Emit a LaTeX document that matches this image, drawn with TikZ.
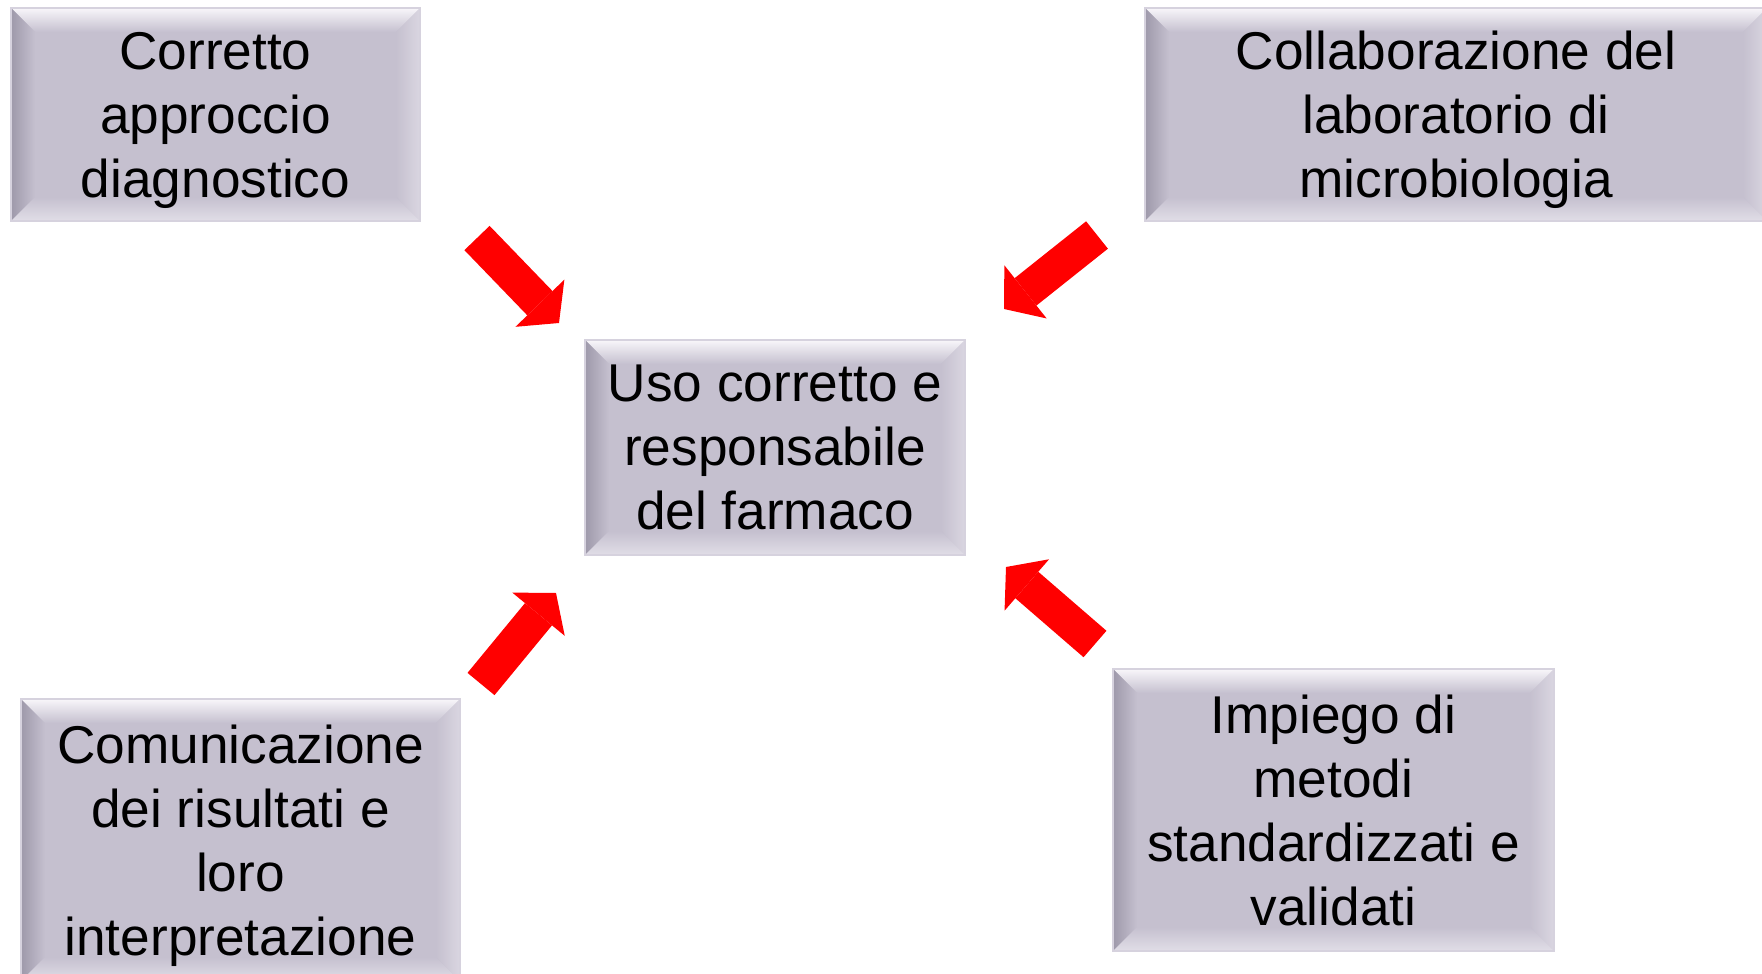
\documentclass[tikz,border=0pt]{standalone}
\usepackage{fontspec}
\setmainfont{Liberation Sans}
\usetikzlibrary{arrows.meta}
\definecolor{boxfill}{RGB}{197,192,207}
\definecolor{boxedge}{RGB}{214,210,222}
\definecolor{bevtop}{RGB}{248,246,250}
\definecolor{bevleft}{RGB}{158,153,170}
\definecolor{bevright}{RGB}{218,214,225}
\definecolor{bevbot}{RGB}{225,222,231}
\tikzset{
bevbox/.style 2 args={fill=boxfill, draw=boxedge, line width=0.8pt, minimum width=#1, minimum height=#2, inner sep=0pt, align=center, text depth=0pt, font=\fontsize{26.6}{32}\selectfont,
path picture={
\coordinate (nw) at (path picture bounding box.north west);
\coordinate (ne) at (path picture bounding box.north east);
\coordinate (sw) at (path picture bounding box.south west);
\coordinate (se) at (path picture bounding box.south east);
\shade[top color=bevtop, bottom color=boxfill] (nw) -- (ne) -- ([shift={(-12pt,-12pt)}]ne) -- ([shift={(12pt,-12pt)}]nw) -- cycle;
\shade[left color=bevleft, right color=boxfill] (nw) -- ([shift={(12pt,-12pt)}]nw) -- ([shift={(12pt,12pt)}]sw) -- (sw) -- cycle;
\shade[right color=bevright, left color=boxfill] (ne) -- (se) -- ([shift={(-12pt,12pt)}]se) -- ([shift={(-12pt,-12pt)}]ne) -- cycle;
\shade[bottom color=bevbot, top color=boxfill] (sw) -- (se) -- ([shift={(-12pt,12pt)}]se) -- ([shift={(12pt,12pt)}]sw) -- cycle;
}},
bigarrow/.style={draw=red, line width=17.5pt, line cap=butt, -{Triangle[width=34pt,length=13.75pt,line width=0pt]}}
}
\begin{document}
\begin{tikzpicture}[line join=miter,x=0.5pt,y=-0.5pt]
\clip (0,0) rectangle (1762,974);
\node[bevbox={204.5pt}{106.5pt}] (corretto) at (215.5,114.5) {Corretto\\approccio\\diagnostico};
\node[bevbox={311pt}{106.5pt}] (collab) at (1456,114.5) {Collaborazione del\\laboratorio di\\microbiologia};
\node[bevbox={190pt}{107.5pt}] (uso) at (775,447.5) {Uso corretto e\\responsabile\\del farmaco};
\node[bevbox={219.5pt}{141pt}] (comunic) at (240.5,840) {Comunicazione\\dei risultati e\\loro\\interpretazione};
\node[bevbox={220.5pt}{141pt}] (impiego) at (1333.5,810) {Impiego di\\metodi\\standardizzati e\\validati};
\coordinate (corretto-s) at (477,238);
\coordinate (corretto-t) at (559,323);
\coordinate (collab-s) at (1097,235);
\coordinate (collab-t) at (1004,309);
\coordinate (comunic-s) at (481,684);
\coordinate (comunic-t) at (556,593);
\coordinate (impiego-s) at (1095,644);
\coordinate (impiego-t) at (1006,567);
\draw [bigarrow] (corretto-s) -- (corretto-t);
\draw [bigarrow] (collab-s) -- (collab-t);
\draw [bigarrow] (comunic-s) -- (comunic-t);
\draw [bigarrow] (impiego-s) -- (impiego-t);
\end{tikzpicture}
\end{document}
